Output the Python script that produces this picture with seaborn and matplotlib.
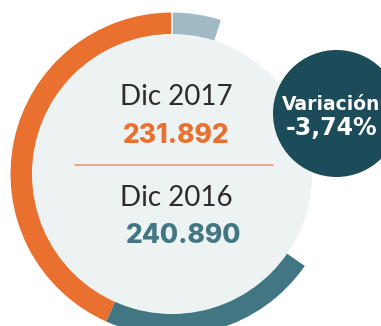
import matplotlib
matplotlib.use("Agg")
import matplotlib.pyplot as plt
from matplotlib.patches import Circle
import seaborn as sns

# Period labels and totals
periods = ["Dic 2017", "Dic 2016"]
totals = [231892, 240890]
variation_label = "Variación"
variation_pct = -3.74

# Ring arcs (degrees, counter-clockwise from 12 o'clock): 2017, 2016, empty gap, remainder
ring_names = ["2017", "2016", "gap", "resto"]
ring_degrees = [156.0, 79.3, 107.1, 17.6]

sns.set_theme(style="white")
plt.rcParams["font.family"] = ["Lato", "DejaVu Sans"]

orange = "#E9702E"
teal = "#427682"
grey_blue = "#A2BAC6"
pale = "#EDF2F2"
dark = "#1C4B59"
line_orange = "#F2A073"
text_dark = "#2D2B2B"

W, H = 381, 326
fig = plt.figure(figsize=(W / 100, H / 100), dpi=100)
fig.patch.set_facecolor("white")
ax = fig.add_axes([0, 0, 1, 1])

cx, cy = 172, H - 174
r_out, ring_w = 161.5, 22

ring_colors = [orange, teal, "none", grey_blue]
wedges, _ = ax.pie(ring_degrees, colors=ring_colors, startangle=90, counterclock=True,
                   center=(cx, cy), radius=r_out, frame=True,
                   wedgeprops=dict(width=ring_w, edgecolor="none", linewidth=0))
# thin white seam where the ring starts at 12 o'clock
ax.plot([cx, cx], [cy + r_out - ring_w, cy + r_out + 1], color="white", lw=1.2, zorder=3)

ax.add_patch(Circle((cx, cy), r_out - ring_w + 0.5, facecolor=pale, edgecolor="none", zorder=2))
ax.add_patch(Circle((336.5, H - 113.5), 63.5, facecolor=dark, edgecolor="none", zorder=4))

ax.plot([75, 273], [H - 164.5, H - 164.5], color=line_orange, lw=1.3, zorder=3)

def fmt(v):
    return f"{v:,}".replace(",", ".")

num_font = ["Inter", "DejaVu Sans"]

ax.text(176, H - 105, periods[0], ha="center", va="baseline", fontsize=20,
        fontweight="normal", color=text_dark, zorder=5)
ax.text(176, H - 143.3, fmt(totals[0]), ha="center", va="baseline", fontsize=19,
        fontweight="heavy", family=num_font, color=orange, zorder=5)
ax.text(176.3, H - 205.7, periods[1], ha="center", va="baseline", fontsize=20,
        fontweight="normal", color=text_dark, zorder=5)
ax.text(183.5, H - 243.3, fmt(totals[1]), ha="center", va="baseline", fontsize=19,
        fontweight="heavy", family=num_font, color=teal, zorder=5)

ax.text(331.5, H - 109.5, variation_label, ha="center", va="baseline", fontsize=13.5,
        fontweight="bold", family="DejaVu Sans", color="white", zorder=6)
pct = f"{variation_pct:.2f}%".replace(".", ",")
ax.text(331.5, H - 135, pct, ha="center", va="baseline", fontsize=17,
        fontweight="bold", family="DejaVu Sans", color="white", zorder=6)

ax.set_xlim(0, W)
ax.set_ylim(0, H)
ax.set_aspect("equal")
ax.axis("off")

fig.savefig("out.png", dpi=100, facecolor="white")
